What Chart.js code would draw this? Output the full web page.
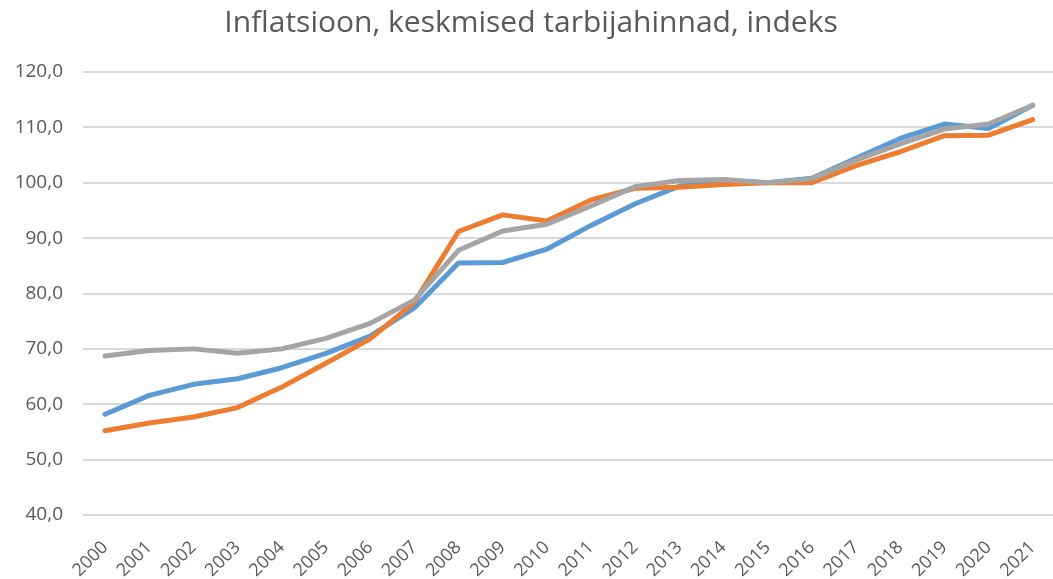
<!DOCTYPE html>
<html>
<head>
<meta charset="utf-8">
<script src="https://cdn.jsdelivr.net/npm/chart.js@4"></script>
<style>
  html, body { margin: 0; padding: 0; overflow: hidden; background: #fff; }
  #wrap { width: 1062px; height: 579px; }
</style>
</head>
<body>
<div id="wrap"><canvas id="myChart" width="1062" height="579"></canvas></div>
<script>
const years = ['2000','2001','2002','2003','2004','2005','2006','2007','2008','2009','2010',
               '2011','2012','2013','2014','2015','2016','2017','2018','2019','2020','2021'];

// three index series (2015 = 100)
const blueSeries   = [58.2, 61.6, 63.6, 64.6, 66.6, 69.2, 72.3, 77.4, 85.5, 85.6, 88.0,
                      92.3, 96.2, 99.4, 100.3, 100.0, 100.8, 104.4, 108.0, 110.6, 109.8, 114.0];
const orangeSeries = [55.2, 56.6, 57.7, 59.4, 63.1, 67.4, 71.8, 78.4, 91.2, 94.2, 93.1,
                      96.9, 99.0, 99.2, 99.7, 100.0, 100.0, 103.1, 105.6, 108.5, 108.6, 111.4];
const graySeries   = [68.7, 69.7, 70.0, 69.2, 70.0, 71.9, 74.6, 78.8, 87.8, 91.3, 92.5,
                      95.8, 99.3, 100.4, 100.6, 100.0, 100.7, 104.1, 107.0, 109.7, 110.6, 114.0];

const yMin = 40, yMax = 120, yStep = 10;

const ctx = document.getElementById('myChart').getContext('2d');

// order: lower number is drawn on top (gray last, like the original)
function lineSet(label, data, color, order) {
    return {
        label: label,
        data: data,
        order: order,
        borderColor: color,
        backgroundColor: color,
        borderWidth: 5,
        pointRadius: 0,
        pointHoverRadius: 0,
        fill: false,
        tension: 0,
        borderCapStyle: 'round',
        borderJoinStyle: 'round'
    };
}

const myChart = new Chart(ctx, {
    type: 'line',
    data: {
        labels: years,
        datasets: [
            lineSet('Sinine', blueSeries, '#5B9BD5', 3),
            lineSet('Oranž', orangeSeries, '#ED7D31', 2),
            lineSet('Hall', graySeries, '#A5A5A5', 1)
        ]
    },
    options: {
        responsive: false,
        animation: false,
        layout: { padding: 0 },
        plugins: {
            legend: { display: false },
            tooltip: { enabled: false },
            title: {
                display: true,
                text: 'Inflatsioon, keskmised tarbijahinnad, indeks',
                color: '#595959',
                font: { family: 'Open Sans', size: 30, weight: 'normal' },
                padding: { top: 5, bottom: 31 }
            }
        },
        scales: {
            y: {
                min: yMin,
                max: yMax,
                ticks: {
                    stepSize: yStep,
                    color: '#595959',
                    font: { family: 'Open Sans', size: 19 },
                    padding: 20,
                    callback: function(value) {
                        return value.toFixed(1).replace('.', ',');
                    }
                },
                grid: { color: '#D9D9D9', lineWidth: 2, drawTicks: false },
                border: { display: false },
                afterFit: function(scale) { scale.width = 83; }
            },
            x: {
                offset: true,
                ticks: {
                    color: '#595959',
                    font: { family: 'Open Sans', size: 18 },
                    minRotation: 45,
                    maxRotation: 45,
                    autoSkip: false,
                    padding: 14
                },
                grid: { display: false },
                border: { display: false },
                afterFit: function(scale) { scale.height = 64; }
            }
        }
    }
});
</script>
</body>
</html>
